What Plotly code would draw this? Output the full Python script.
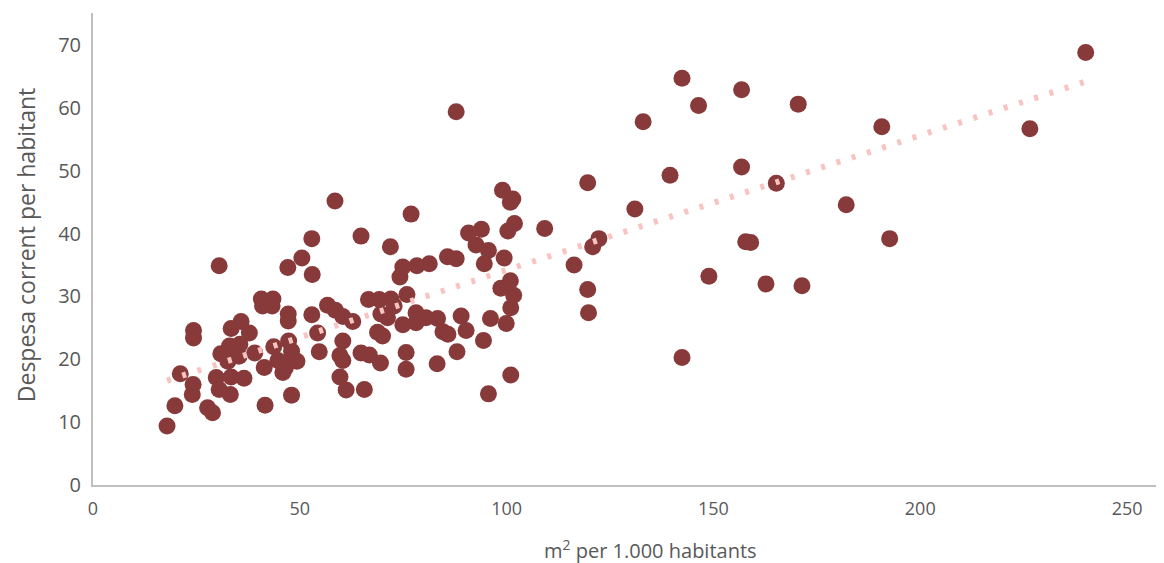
import plotly.graph_objects as go

# m2 per 1.000 habitants
x_vals = [
    17.9, 19.8, 21.1, 24.3, 24.3, 24.2, 24.0, 27.7, 28.9, 30.5,
    29.8, 30.5, 33.2, 33.4, 36.5, 30.9, 32.6, 33.0, 35.5, 35.3,
    33.4, 35.8, 37.8, 39.1, 40.7, 43.5, 41.0, 43.3, 41.4, 41.6,
    43.7, 44.7, 45.9, 47.1, 49.3, 47.3, 48.0, 47.1, 47.2, 47.2,
    48.0, 50.5, 53.0, 52.9, 52.9, 54.3, 54.7, 56.7, 58.6, 60.4,
    62.8, 58.5, 60.4, 59.7, 60.4, 59.7, 61.2, 65.6, 64.8, 66.8,
    69.5, 68.8, 70.0, 64.8, 71.9, 66.6, 69.2, 72.0, 69.6, 71.2,
    72.8, 74.9, 74.9, 74.2, 75.9, 76.9, 75.7, 75.7, 78.1, 78.1,
    78.3, 80.5, 81.3, 83.3, 84.6, 85.8, 83.2, 85.7, 87.8, 87.8,
    89.0, 90.2, 88.0, 90.8, 93.9, 92.6, 95.6, 94.6, 94.4, 95.6,
    96.1, 99.0, 101.5, 100.9, 101.9, 100.3, 99.4, 100.9, 98.6, 101.7,
    101.0, 99.9, 101.0, 109.2, 116.3, 119.6, 119.6, 119.8, 122.3, 120.8,
    131.0, 133.0, 139.5, 142.4, 142.4, 146.4, 148.9, 156.8, 156.8, 157.8,
    159.0, 162.7, 165.2, 170.5, 171.4, 182.1, 190.7, 192.6, 226.5, 240.0,
    46.5,
]
# Despesa corrent per habitant
y_vals = [
    9.4, 12.6, 17.7, 24.6, 23.4, 16.0, 14.4, 12.3, 11.5, 34.9,
    17.1, 15.2, 14.4, 17.2, 17.0, 20.9, 19.7, 22.1, 22.4, 20.5,
    24.9, 26.0, 24.2, 21.0, 29.6, 29.6, 28.5, 28.5, 18.7, 12.7,
    22.0, 19.8, 17.9, 19.5, 19.7, 22.9, 21.3, 34.6, 27.2, 26.1,
    14.3, 36.1, 33.5, 39.2, 27.1, 24.2, 21.2, 28.6, 27.8, 26.8,
    26.0, 45.2, 22.9, 20.6, 19.8, 17.2, 15.1, 15.2, 21.0, 20.7,
    19.4, 24.3, 23.7, 39.6, 37.9, 29.5, 29.5, 29.6, 27.2, 26.6,
    28.5, 25.5, 34.7, 33.1, 30.3, 43.1, 21.1, 18.4, 27.4, 25.8,
    34.9, 26.6, 35.2, 26.5, 24.4, 24.0, 19.3, 36.3, 36.0, 59.4,
    26.9, 24.6, 21.2, 40.1, 40.7, 38.2, 37.3, 35.2, 23.0, 14.5,
    26.5, 46.9, 45.5, 45.0, 41.6, 40.4, 36.1, 32.5, 31.3, 30.2,
    28.2, 25.7, 17.5, 40.8, 35.0, 48.1, 31.1, 27.4, 39.2, 37.9,
    43.9, 57.8, 49.3, 64.7, 20.3, 60.4, 33.2, 62.9, 50.6, 38.7,
    38.6, 32.0, 48.0, 60.6, 31.7, 44.6, 57.0, 39.2, 56.7, 68.8,
    18.6,
]

# linear trendline (Excel), end points
trend_x = [17.9, 240.0]
trend_y = [16.6, 64.2]

x_ticks = [0, 50, 100, 150, 200, 250]
y_ticks = [0, 10, 20, 30, 40, 50, 60, 70]

x_title = "m<sup>2</sup> per 1.000 habitants"
y_title = "Despesa corrent per habitant"

fig = go.Figure()
fig.add_trace(go.Scatter(
    x=x_vals, y=y_vals, mode="markers",
    marker=dict(size=17, color="#883A3A", line=dict(width=0)),
    showlegend=False, hoverinfo="x+y",
))
fig.add_trace(go.Scatter(
    x=trend_x, y=trend_y, mode="lines",
    line=dict(color="#F8C4C2", width=6, dash="4px,12px"),
    showlegend=False, hoverinfo="skip",
))

font_main = "Open Sans, Noto Sans, DejaVu Sans, sans-serif"
grey = "#595959"

fig.update_layout(
    width=1164, height=563,
    margin=dict(l=85, r=11, t=5, b=86),
    paper_bgcolor="white", plot_bgcolor="white",
    font=dict(family=font_main, color=grey),
    xaxis=dict(
        range=[0, 258.2], tickvals=x_ticks, ticktext=[str(v) for v in x_ticks],
        showgrid=False, zeroline=False, showline=True, linecolor="#BFBFBF", linewidth=2,
        ticks="", tickfont=dict(size=18, color=grey), ticklabelstandoff=6,
        automargin=False,
    ),
    yaxis=dict(
        range=[0, 75.1], tickvals=y_ticks, ticktext=[str(v) for v in y_ticks],
        showgrid=False, zeroline=False, showline=True, linecolor="#BFBFBF", linewidth=2,
        ticks="", tickfont=dict(size=20, color=grey), ticklabelstandoff=6,
        automargin=False,
    ),
    annotations=[
        dict(text=x_title, xref="paper", yref="paper", x=0.522, y=0,
             xanchor="center", yanchor="middle", yshift=-64, showarrow=False,
             font=dict(size=20, color=grey)),
        dict(text=y_title, xref="paper", yref="paper", x=0, y=0.508,
             xanchor="center", yanchor="middle", xshift=-67, textangle=-90,
             showarrow=False, font=dict(size=23, color=grey)),
    ],
)

fig.write_html("out.html")
